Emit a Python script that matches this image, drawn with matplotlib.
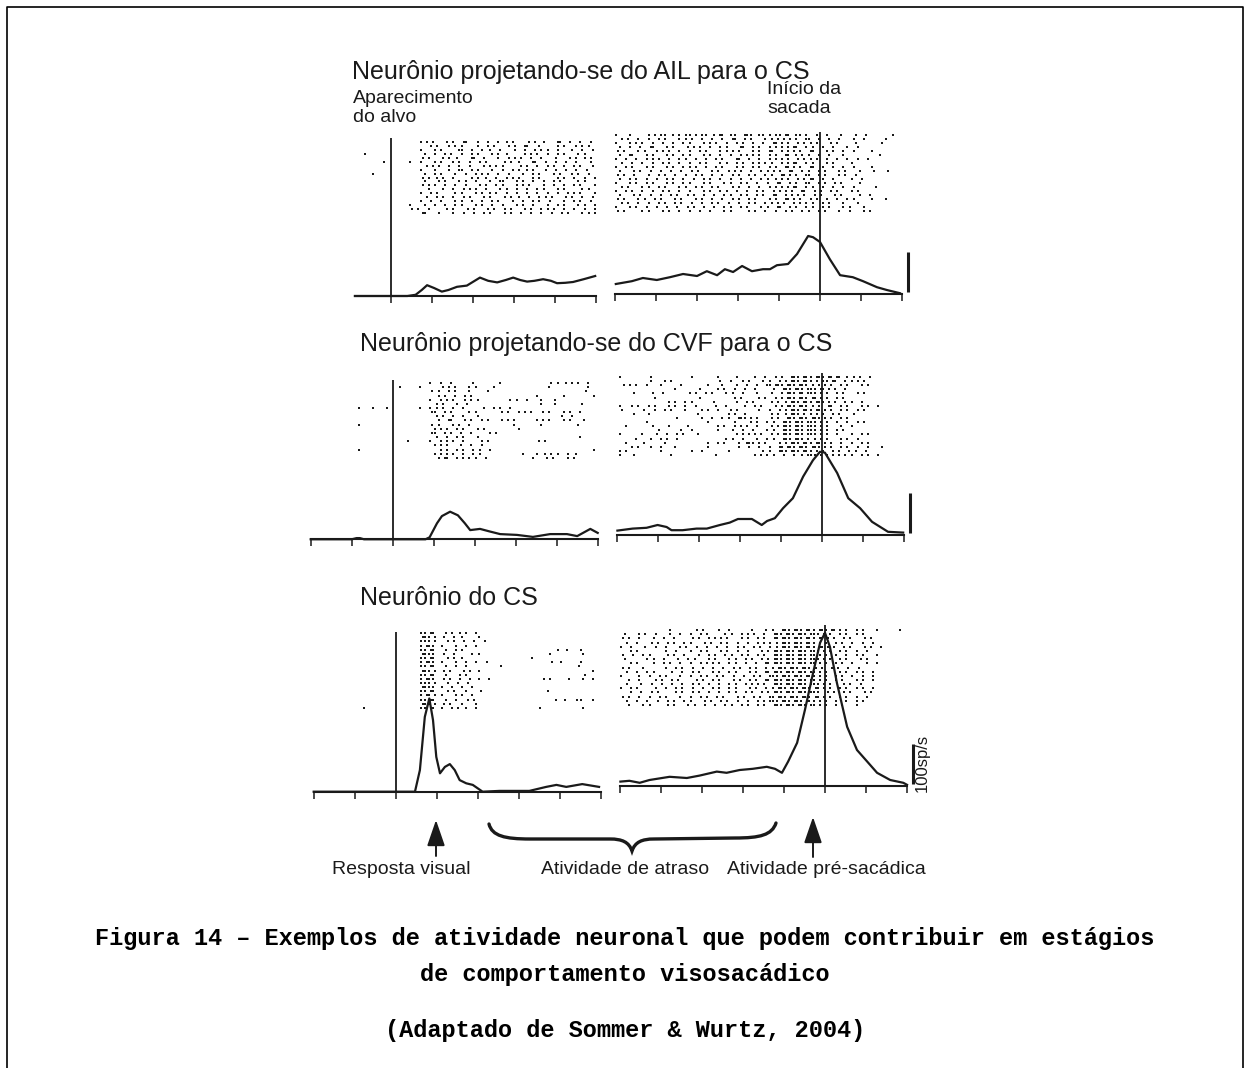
import matplotlib
matplotlib.use("Agg")
import matplotlib.pyplot as plt
from matplotlib.path import Path
from matplotlib.patches import PathPatch

W, H, DPI = 1250, 1068, 100
INK = "#1a1a1a"
plt.rcParams['font.family'] = ['Liberation Sans', 'DejaVu Sans']

# ---------------------------------------------------------------- data
titles = ["Neurônio projetando-se do AIL para o CS",
          "Neurônio projetando-se do CVF para o CS",
          "Neurônio do CS"]
event_labels = ["Aparecimento\ndo alvo", "Início da\nsacada"]
bottom_labels = ["Resposta visual", "Atividade de atraso", "Atividade pré-sacádica"]
scale_label = "100sp/s"
scale_bar_sps = 100
caption = ["Figura 14 – Exemplos de atividade neuronal que podem contribuir em estágios",
           "de comportamento visosacádico",
           "(Adaptado de Sommer & Wurtz, 2004)"]

ticks_left_short = [0, 100, 200, 300, 400, 500]
ticks_left = [-200, -100, 0, 100, 200, 300, 400, 500]
ticks_right = [-500, -400, -300, -200, -100, 0, 100, 200]

# spike density functions: time (ms) and rate (sp/s)
ail_target_t = [-88, 40, 60, 75, 88, 105, 124, 140, 161, 185, 217, 237, 259, 280, 298,
                315, 332, 350, 371, 390, 405, 425, 444, 470, 498]
ail_target_r = [0, 0, 3, 15, 27, 20, 11, 15, 23, 26, 46, 38, 34, 40, 46,
                40, 36, 38, 42, 38, 32, 33, 35, 42, 50]
ail_sacc_t = [-498, -459, -432, -398, -366, -334, -300, -276, -251, -232, -212, -190, -166, -139,
              -122, -105, -78, -56, -29, -17, 0, 24, 49, 80, 105, 139, 163, 195]
ail_sacc_r = [25, 32, 40, 35, 42, 50, 45, 57, 47, 62, 55, 70, 57, 62,
              62, 72, 75, 100, 145, 142, 130, 87, 47, 42, 32, 17, 10, 2]
cvf_target_t = [-200, -100, -88, -80, -70, 80, 90, 108, 120, 140, 159, 176, 189, 213, 235,
                262, 303, 342, 384, 425, 450, 482, 500]
cvf_target_r = [0, 0, 3, 3, 0, 0, 5, 40, 58, 69, 60, 40, 23, 26, 20,
                13, 11, 6, 13, 13, 8, 26, 16]
cvf_sacc_t = [-499, -462, -428, -401, -379, -367, -340, -306, -281, -249, -225, -205, -171, -147,
              -134, -115, -95, -71, -46, -22, -5, 7, 37, 64, 93, 122, 161, 198]
cvf_sacc_r = [11, 16, 18, 25, 20, 12, 12, 16, 16, 25, 31, 40, 40, 25,
              35, 42, 67, 92, 146, 187, 208, 206, 155, 92, 67, 33, 8, 6]
cs_target_t = [-200, 47, 59, 71, 82, 91, 99, 108, 120, 132, 144, 156, 172, 188, 212,
               253, 326, 367, 392, 416, 455, 496]
cs_target_r = [0, 0, 54, 187, 233, 179, 87, 46, 62, 69, 54, 29, 21, 17, 0,
               2, 2, 12, 17, 12, 19, 12]
cs_sacc_t = [-499, -477, -452, -428, -379, -337, -306, -264, -240, -208, -176, -142, -122, -105,
             -90, -68, -49, -29, -12, 0, 12, 29, 54, 78, 103, 127, 159, 191, 200]
cs_sacc_r = [11, 13, 8, 15, 23, 20, 26, 36, 33, 40, 43, 48, 43, 33,
             61, 108, 190, 283, 358, 383, 348, 258, 148, 90, 61, 33, 15, 8, 3]

# rasters: one string per trial, one character per 10 ms bin
# 'x' = spike early in the bin, 'o' = spike late in the bin, '.' = none
RASTER_BIN = 10
ail_target_raster_t0 = -100
ail_target_raster = [
    ".................xo.x..o.x.ox..x.o..x.xo...o.x.x..ox.o..x.o.",
    "...................o.x..xo.x...x.o.x..o.x.ox..x...o.x..xo.x.",
    ".................x..o.x...ox.o..x.x.o...x.o..xo.x.o...x.o..x",
    "...o..............x.o..xo..x.o.x..o.x.x...o.xo..x.o.x..o.x..",
    ".................o.x..o.x.x..ox.o...x.o.xo..x.o...x..o.x.xo.",
    "........x.....o..x..o.x..xo..x.o.x...o.x.x..ox.o..x.o..x..o.",
    "..................o.xo..x.o..x..o.xo.x...o.x.o..xo..x.o.x..x",
    ".................x..o...x.ox.o.x..o..x.o.x.xo..o..x.o..x.o..",
    ".....o............x.o.x..o..x.o.xo..x.o...x.o.x..o.x..xo..x.",
    ".................o.x.xo..x...o.x.x.o..xo.x..o.x...o.x.o..x.o",
    "..................x..o.x..o.x.o...x.ox..o.x.o..x.o.x...o.x..",
    ".................o.xo..x.o..x..o.x.o.x..o.xo...x.o..x.o.x..o",
    "...................x..o..x.o.xo..x..o.x.o..x.o.x..o.x...o.x.",
    ".................x.o.x...o.x..o.x.xo..x.o..x.o..x.o..xo.x..o",
    "..................o..xo..x.o.x..o.x..o.x.x.o..xo.x..o.x.o..x",
    ".................x.o..x..o.x.o..x.o.x..o..x.o.x.o...x.o.x.o.",
    "..............o...x.o..x.o.x..o.x.o..x..o.x.o...x.o.x..o.x.o",
    "...............xo..x...o.x..o.x..o.x.o.x..o.x.o.xo..x.o..x.o",
    ".................ox..o...x.o..x.o.x..o.x.o..x.o..x.o.x..o.xo",
]
ail_sacc_raster_t0 = -500
ail_sacc_raster = [
    "x..o....xo.xx.xo.xxo.xx.xox.xx.oxx.xxo.xxox.xxo..x.o...x..o..x.....o",
    ".o.x.o..x.o.x..o.xo..x.o..x.ox.o.x..o.xo.xo.x.ox.o..x.o...x.o.....x..",
    "x..o.xo..x.o..x.o.x..o.xo..x.o.x.o..x.oxo.x.o.xo.x..o.x...o......x...",
    ".x.o..x.ox..o.x..o.xo..x.o.x..ox.o.x.o.xo.xox.o.x.o..x..o..x........",
    "o.x..o.x..xo.x.o..x.o.x..o.xo.x..o.x.ox.o.xo.x.ox..o.x.o..x...o......",
    ".x.ox..o.x..o.x.o.x..o.x.o..x.o.xo.x.o.x.ox.xo.x.o..x..o........o...",
    "x.o..x.o.xo..x.o.x.o..x.o.x..ox.o..x.o.xo.x.o.xo.x.o..x.o..x.o......",
    ".o..x.o..x.o.x.o..x.o.x..o.x.o.x.o.xo.x.o.xox.o.x..o.x...o..........",
    "x.o.x..o.x..o.x.o.xo..x.o.x..o.x.o.x.o.x.oxo.x.ox.o..x.o..x...o......",
    ".x..o.x.o..x.o..x.o.x..o.x.o.xo..x.o.xo.x.ox.o.x.o.x..o.x..o...x..o.",
    "o.x.o...x.o.x.o..x.o.x.o..x.o.x.o.x.o.x.oxo.x.ox.o.x..o.x.o........",
    ".x.o.x.o..x.o.x.o..x.o.x.o..x.o..x.o.x.xo.x.o.xox.o..x...o..x......",
    "x..o.x.o.x..o.x.o.x..o.x..o.x.o.x.o..x.ox.o.x.ox.o.x.o.x...o........",
    ".o.x..o.x.o.x..o.x.o.x.o.x..o.x.o..x.o.xo.xox.o.x.o..x.o..x....o....",
    "x.o.x.o..x.o.x.o..x..o.x.o.x.o..x.o.x.o.xo.x.ox.o.x.o.x..o.x........",
    ".x..o.x.o..x.o.x.o.x.o..x.o.x.o.x.o.x.ox.o.xo.x.o.x..o.x...o..x.....",
    "o.x..o.x.o.x..o.x..o.x.o..x.o.x.o.x..o.x.oxo.x.o.x.o..x.o.x...o...x..",
    ".o.x.o..x.o.x.o.x.o..x.o.x.o..x.o.x.o.xo.x.o.xo.x.o.x..o...x........",
    "x..o.x.o..x.o..x.o.x.o..x.o.x.o.x..o.x.ox.o.x.o.x.o.x..o.x..o.......",
    "o.x...o.x..o.x.o..x.o..x..o.x...o.x.o..x.o.x.o.x.o.x..o..x..o.x.....",
]
cvf_target_raster_t0 = -200
cvf_target_raster = [
    ".............................x.o..x....o......x...........o.x.xo.x.o..",
    ".....................o....o.....xo.x..o.x...o.............x........o.",
    ".............................o.x.o.x..o....x.......................x..",
    "...............................xo..x.o.x...............x.....o.......x",
    ".............................x.o.xo..o.xo.......o.x.o...x..o........",
    "..............................o.x..o..x.................x..o......x..",
    "...........o...x..o.......o..xo.x.o..x....x.o.x.o....................",
    ".............................ox.o.x...o.x.....o.x.o.xo..o.x..o.x.o...",
    "..............................o.x.o..x..o....................x.o.....",
    "...............................x.ox..o.x.o.x..o.xo.....xo.x..o.x..o.",
    "...........o.................o.x..o.x.o..........o......x........x..",
    "..............................xo.x.o.x..o.x.......o..................",
    ".............................ox.o.x.o..x...o.x.....................",
    "..............................o..x.o.x..o........................o..",
    ".......................o.....x.o.xo..x...o.x...........o.x..........",
    "..............................xo.x..o..x.o...........................",
    "...........o...................o.x.o.x.o.x.o.........................x",
    "..............................xo.xo..x.o.x.........o...x.xo.x.o.o....",
    "...............................xox.o.xo.x.o...........x..o.x..o.x....",
]
cvf_sacc_raster_t0 = -500
cvf_sacc_raster = [
    "o.......x.........x.....o....x...o..x.o.x.oxxoxxoxxoxox.xo.x.o........",
    "........x..o.x...........x.o..o.x..o.x.o.xoxxoxxo.xxox.o.xo.x.........",
    ".o.xo..x..o....o......x..o...x.o..x.oxoxxoxxoxxo.xo.x.o.x..o.x........",
    "..............x.....x...o.x.o..x.o....x.oxxoxxoxxoxo.x.o...............",
    "....x...o..x.....o.x.o.x..o.x.o...x..o..xoxxoxoxxo.x.o.x..o.x.........",
    ".........x..........x.......o.x...o.x.o.xoxxoxxoxo.x.o.x..............",
    "............o.x.o.x....o.....x.o.x...o.x.xoxxoxxoxxo.x.o.x.o..........",
    "o..o.x.o.x..o.x.o..x....x.o....x.o.x..o.xoxxoxxo.x.ox.o.x..o.x.o......",
    ".x....o..x.o.x..o...o.x.o..o.x....o..x.o.xoxxoxxoxo.x.o.x.o.x........",
    "....x..o...........o.......xo..x.....o.x.xoxxo.xo.x.o.x..o...........",
    "..............o.....o..x.o.x.oxxo.x..o.x.oxxoxxoxxo.x.o.x.............",
    ".......x..............x.....o...o.x.o.x.oxxoxxoxxo.x.o..x.o.x........",
    "..x.....o...o....x......o.x.o.xo..x..o.xoxxoxxoxxo.x..o..x...........",
    "..........x....o..x.....o...x.o..x..o.x.oxxoxxoxxo.x.o.x..............",
    "o.....x..o..x.o.x..o.........xo.xo.x.o.xoxxoxxoxxo.x.o...x.o.x........",
    "....o...x.o.x.o...........o.x.o...x.o.x.oxxoxxo.xo.x..o.x.o...........",
    "..x...o....o..........x.o.x..o.oxxo.x..o.xoxxoxxoxo.x.o..x.o.x.......",
    "...o.x..x.o...x.......x......o..x.o..x.oxoxxoxxoxxo.x.o.x.o..x..o.....",
    "o.x.......o.......x.o......x.......o.x.oxxoxxoxxo.x.o.x.o.x.o........",
    "o...x........x..........x........o.xo.x.o..x.xoxxo.xo.xo.x.o.x.o......",
]
cs_target_raster_t0 = -200
cs_target_raster = [
    "..........................xxox..xo.o.x.o",
    "..........................oxxo.o..x.x...x",
    "..........................xxxo..o.x.o..x.o",
    "..........................xoxx.x..o..x.o",
    "..........................xxox..x.o.x......................o.o...x",
    "..........................oxxx.o..x...o.x................o.......o",
    "..........................xxox..o.x.x................x",
    "..........................xoxx.x..o..x.o..x...............x.x....x",
    "..........................xxox..x.o..x.......o..................o",
    "..........................oxxo.o.x..o.x.x...........................x",
    "..........................xxox..x..o.x............................x",
    "..........................xoxx.o.x.o..x.x.o.............xo....x..o..x",
    "..........................xxxo..o..x.o",
    "..........................oxxx.x.o..x.o",
    "..........................xxox..o.x..x..o................x",
    "..........................xoxo.x..o.x.o",
    "..........................xxox..x.o..o.x...................x.x..xx..x",
    "..........................oxxo.o.x..x..o",
    "............x.............xxox.x.o.x.x.o...............x.........o",
]
cs_sacc_raster_t0 = -500
cs_sacc_raster = [
    "............x.....o.x...x.o.....x..o.x.oxxoxxoxxoxxoxo.x.o.x..o.....x.",
    ".x..o.x.o...x.o..x.o.x...o.x.o.xo..x.oxxoxxoxxoxxo.x.o.x.o.x.........",
    "o.x.o...x.o..x...o.x.o.xo.x..o.x.o.x.oxoxxoxxoxxoxo.x.o.x..o.x........",
    ".o..x..o.x.o.x.o.x..o.x.o.x.o..x.o.xo.xoxxoxxoxxo.x.o.x.o..x.o........",
    "x.o...x.o..x..o.x.o..x.o..x.o.x.o.x.o.xoxxoxxoxxoxo.x.o.x..o.x.o......",
    "..o.x......x.o...x.o.x..o.x.o..x..o.xoxxoxxoxxoxxo.x.o.x.o..x........",
    "o..x.o.x...o.x.o...x.o.x.o.x.o.x.o.x.oxxoxxoxxoxo.x.o..x.o.x..o......",
    ".x....o.x.o...x.o.x..o.x..o.x.o.x.o.xoxxoxxoxxoxxo.x.o.x..o.x........",
    "..o.x...x.o.x.o..x.o.xo.x.o.x.o..x.oxoxxoxxoxxoxo.x.o.x.o...x.o......",
    "o.x..o.....x.o.x.o..x.o..x.o.x.o.x.o.xoxxoxxoxxo.x.o.x.o..x..........",
    ".o..x.o.x...o..x.o.x..o.x.o.x..o.x.oxoxxoxxoxxoxo.x..o.x.o.x.o......",
    "x...o..x.o.x..o..x.o.x.o.x.o..x.o.x.oxxoxxoxxoxxo.x.o.x.o..x.o.......",
    "..x.o...o.x.o.x...o.x.o.x..o.x.o.x.oxoxxoxxoxxoxo.x.o.x..o.x.o........",
    ".o...x.o..x.o..x.o.x.o..x.o.x.o.xo.x.oxxoxxoxxoxxo.x..o.x.o...........",
    "x.o.x...o..x.o.x.o..x.o.x.o.x..o.x.o.xoxxoxxoxxoxo.x.o.x.o.x.o.......",
    "..o..x.o.x...o.x.o.x.o..x.o.x.o.x.o.xoxxoxxoxxoxx.o.x.o.x..o.x........",
    "o.x.o..x.o.x..o..x.o.x.o.x..o.x.o.x.oxoxxoxxoxxoxo.x.o.x.o..x........",
    ".o..x.o..x.o.x.o.x..o.x.o.x.o..x.o.xoxxoxxoxxoxxo.x.o..x.o.x.........",
    "..x..o.x...o.x..o.x.o..x.o.x.o.x.o.x.oxxoxxoxxoxo.x.o.x..o...........",
]

# ---------------------------------------------------------------- layout
fig = plt.figure(figsize=(W / DPI, H / DPI), dpi=DPI)
fig.patch.set_facecolor("white")

PPM = 0.41   # pixels per ms
PPR = 0.40   # pixels per sp/s


def px_axes(left, top, width, height, z=1):
    return fig.add_axes([left / W, 1 - (top + height) / H, width / W, height / H], zorder=z)


# overlay axes in pixel units for annotations
ax0 = px_axes(0, 0, W, H, z=0)
ax0.set_xlim(0, W)
ax0.set_ylim(H, 0)
ax0.axis("off")


def panel(t0_px, base_px, vtop_px, r_top, r_bot, xlim, bounds, ticks, t, r,
          raster, raster_t0, bar_t=None, bar_label=None):
    tmin, tmax = xlim
    left = t0_px + tmin * PPM
    width = (tmax - tmin) * PPM
    ax = px_axes(left, vtop_px, width, base_px - vtop_px, z=3)
    ax.set_xlim(tmin, tmax)
    ax.set_ylim(0, (base_px - vtop_px) / PPR)
    ax.patch.set_alpha(0)
    for s in ("left", "right", "top"):
        ax.spines[s].set_visible(False)
    ax.spines["bottom"].set_bounds(*bounds)
    ax.spines["bottom"].set_linewidth(1.5)
    ax.spines["bottom"].set_color(INK)
    ax.set_xticks(ticks)
    ax.set_yticks([])
    ax.tick_params(axis="x", direction="out", length=5, width=1.1, color=INK,
                   labelbottom=False)
    ax.plot(t, r, color=INK, lw=1.6, clip_on=False, solid_joinstyle="round")
    ax.axvline(0, ymin=0, ymax=1, color=INK, lw=1.3)
    if bar_t is not None:
        ax.plot([bar_t, bar_t], [5, 5 + scale_bar_sps], color=INK, lw=2.2,
                clip_on=False, solid_capstyle="butt")
    if bar_label is not None:
        ax.text(bar_t + 22, 57, bar_label, rotation=90, ha="center", va="center",
                fontsize=12, color=INK)

    n = len(raster)
    rax = px_axes(left, r_top, width, r_bot - r_top, z=2)
    rax.set_xlim(tmin, tmax)
    rax.set_ylim(n - 0.5, -0.5)
    rax.axis("off")
    xs, ys = [], []
    for i, row in enumerate(raster):
        for j, ch in enumerate(row):
            if ch == "x":
                xs.append(raster_t0 + RASTER_BIN * j + 2)
                ys.append(i)
            elif ch == "o":
                xs.append(raster_t0 + RASTER_BIN * j + 7)
                ys.append(i)
    rax.plot(xs, ys, "s", ms=1.8, mew=0, color=INK)


# row 1 (AIL)
panel(391, 296, 138, 140, 215, (-100, 510), (-88, 500), ticks_left_short,
      ail_target_t, ail_target_r, ail_target_raster, ail_target_raster_t0)
panel(820, 294, 132, 133, 213, (-510, 250), (-500, 200), ticks_right,
      ail_sacc_t, ail_sacc_r, ail_sacc_raster, ail_sacc_raster_t0, bar_t=215)
# row 2 (CVF)
panel(392.7, 539.3, 380, 381, 460, (-210, 510), (-200, 500), ticks_left,
      cvf_target_t, cvf_target_r, cvf_target_raster, cvf_target_raster_t0)
panel(822, 535, 373, 375, 457, (-510, 250), (-500, 200), ticks_right,
      cvf_sacc_t, cvf_sacc_r, cvf_sacc_raster, cvf_sacc_raster_t0, bar_t=215)
# row 3 (CS)
panel(395.7, 791.7, 632, 631, 710, (-210, 510), (-200, 500), ticks_left,
      cs_target_t, cs_target_r, cs_target_raster, cs_target_raster_t0)
panel(825, 786, 625, 628, 707, (-510, 250), (-500, 200), ticks_right,
      cs_sacc_t, cs_sacc_r, cs_sacc_raster, cs_sacc_raster_t0, bar_t=214,
      bar_label=scale_label)

# ---------------------------------------------------------------- text
ax0.text(352, 72, titles[0], fontsize=18, va="center", ha="left", color=INK)
ax0.text(360, 344, titles[1], fontsize=18, va="center", ha="left", color=INK)
ax0.text(360, 598, titles[2], fontsize=18, va="center", ha="left", color=INK)

ax0.text(353, 108, event_labels[0], fontsize=14, va="center", ha="left",
         color=INK, linespacing=1.2)
ax0.text(767, 99, event_labels[1], fontsize=14, va="center", ha="left",
         color=INK, linespacing=1.2)

ax0.text(332, 869, bottom_labels[0], fontsize=14, va="center", ha="left", color=INK)
ax0.text(541, 869, bottom_labels[1], fontsize=14, va="center", ha="left", color=INK)
ax0.text(727, 869, bottom_labels[2], fontsize=14, va="center", ha="left", color=INK)

# arrows
for ax_x, tip, tail in ((436, 820, 856), (813, 817, 857)):
    ax0.annotate("", xy=(ax_x, tip), xytext=(ax_x, tail),
                 arrowprops=dict(arrowstyle="-|>,head_length=1.6,head_width=0.55",
                                 lw=1.4, color=INK, shrinkA=0, shrinkB=0))

# brace
verts = [(489, 824), (492, 836), (505, 839), (530, 839),
         (610, 839),
         (622, 839), (629, 842), (632, 851),
         (635, 842), (642, 839), (654, 839),
         (735, 838),
         (760, 838), (772, 835), (776, 823)]
codes = [Path.MOVETO, Path.CURVE4, Path.CURVE4, Path.CURVE4,
         Path.LINETO,
         Path.CURVE4, Path.CURVE4, Path.CURVE4,
         Path.CURVE4, Path.CURVE4, Path.CURVE4,
         Path.LINETO,
         Path.CURVE4, Path.CURVE4, Path.CURVE4]
ax0.add_patch(PathPatch(Path(verts, codes), fill=False, lw=2.4, color=INK,
                        capstyle="round"))

# caption
for y, line in zip((939, 975, 1030), caption):
    ax0.text(625, y, line, fontsize=17, ha="center", va="center", color="black",
             family=["Liberation Mono", "DejaVu Sans Mono"], weight="bold")

# border
ax0.plot([7, 7, 1243, 1243], [H, 7, 7, H], color="black", lw=1.2)

fig.savefig("out.png", dpi=DPI, facecolor="white")
